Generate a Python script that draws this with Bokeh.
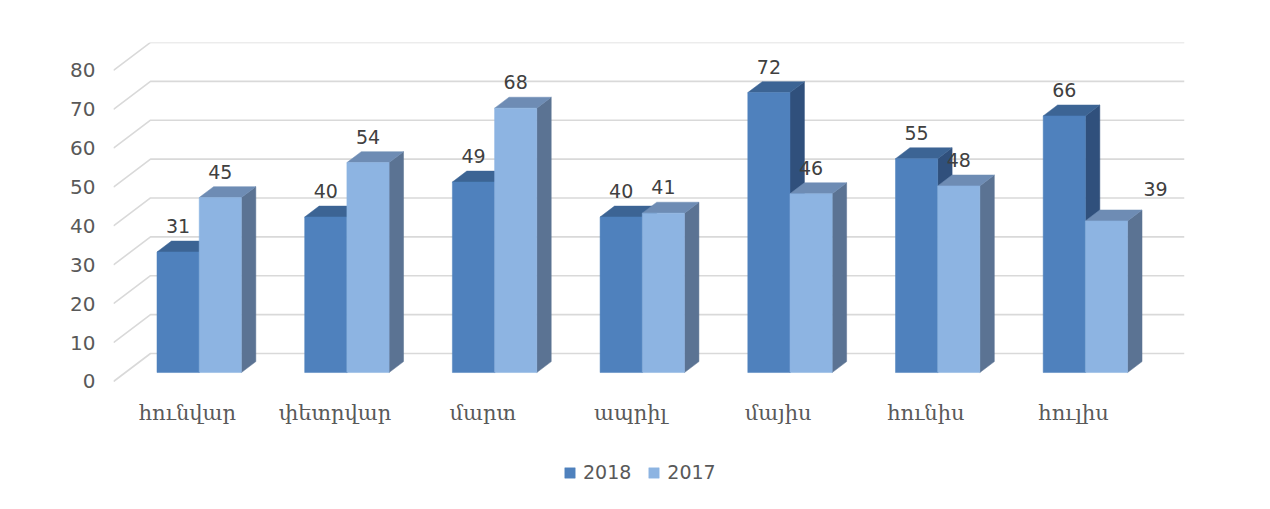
from bokeh.plotting import figure
from bokeh.models import Range1d, FixedTicker, Legend, LegendItem, ColumnDataSource
from bokeh.embed import file_html
from bokeh.resources import INLINE
from bokeh.core.properties import value

# ---------------- data ----------------
categories = ["հունվար", "փետրվար", "մարտ", "ապրիլ", "մայիս", "հունիս", "հուլիս"]
s2018 = [31, 40, 49, 40, 72, 55, 66]
s2017 = [45, 54, 68, 41, 46, 48, 39]
series_names = ["2018", "2017"]
y_ticks = [0, 10, 20, 30, 40, 50, 60, 70, 80]

# ---------------- layout / styles ----------------
W, H = 1254, 493
BL, BT = 113, 42
frame_w = 1071
frame_h = 445
BR = W - BL - frame_w
BB = H - BT - frame_h
PX_PER_CAT = 147.7
PX_PER_VAL = 3.888
x_max = frame_w / PX_PER_CAT
y_top = 87.19
y_bot = y_top - frame_h / PX_PER_VAL
DXW = 37 / PX_PER_CAT      # wall depth in x units
DYW = 28 / PX_PER_VAL      # wall depth in value units
Z0, Z1 = 0.32, 0.71        # bar depth (fraction of floor depth)
BAR_W = 1 / 3.5            # gap width 150%

front_col = {"2018": "#4f81bd", "2017": "#8db4e2"}
top_col = {"2018": "#3c6494", "2017": "#6e8cb4"}
side_col = {"2018": "#30507c", "2017": "#5b7393"}
label_nudge = {("2017", 6): (49, -6)}

p = figure(width=W, height=H, output_backend="svg", toolbar_location=None,
           x_axis_location=None, min_border_left=BL, min_border_right=BR,
           min_border_top=BT, min_border_bottom=BB,
           x_range=Range1d(0, x_max), y_range=Range1d(y_bot, y_top))
p.grid.visible = False
p.outline_line_color = None
p.background_fill_color = "white"
p.border_fill_color = "white"

# gridlines: slanted side wall + back wall
gx = [[0, DXW, x_max] for v in y_ticks]
gy = [[v, v + DYW, v + DYW] for v in y_ticks]
p.multi_line(gx, gy, line_color="#d9d9d9", line_width=1.6)

dx0, dy0 = Z0 * DXW, Z0 * DYW
dx1, dy1 = Z1 * DXW, Z1 * DYW

fronts = {}
for si, (name, vals) in enumerate(zip(series_names, [s2018, s2017])):
    lefts = [i + 0.5 - BAR_W + si * BAR_W for i in range(len(categories))]
    sxs, sys_ = [], []
    txs, tys = [], []
    for xl, v in zip(lefts, vals):
        xr = xl + BAR_W
        sxs.append([xr + dx0, xr + dx1, xr + dx1, xr + dx0])
        sys_.append([dy0, dy1, v + dy1, v + dy0])
        txs.append([xl + dx0, xr + dx0, xr + dx1, xl + dx1])
        tys.append([v + dy0, v + dy0, v + dy1, v + dy1])
    p.patches(sxs, sys_, fill_color=side_col[name], line_color=side_col[name], line_width=0.5)
    p.patches(txs, tys, fill_color=top_col[name], line_color=top_col[name], line_width=0.5)
    src = ColumnDataSource(dict(left=[x + dx0 for x in lefts],
                                right=[x + BAR_W + dx0 for x in lefts],
                                bottom=[dy0] * len(vals),
                                top=[v + dy0 for v in vals]))
    fronts[name] = p.quad(left="left", right="right", bottom="bottom", top="top",
                          source=src, fill_color=front_col[name],
                          line_color=front_col[name], line_width=0.5)

# value labels
for si, (name, vals) in enumerate(zip(series_names, [s2018, s2017])):
    for i, v in enumerate(vals):
        xo, yo = label_nudge.get((name, i), (0, 0))
        p.text(x=[i + 0.5 - BAR_W / 2 + si * BAR_W + dx0], y=[v + dy0], text=[str(v)],
               x_offset=xo, y_offset=-26 + yo,
               text_font=value("DejaVu Sans"), text_font_size="19px",
               text_color="#404040", text_align="center", text_baseline="middle")

# category labels
p.text(x=[i + 0.5 for i in range(len(categories))], y=[0] * len(categories),
       text=categories, y_offset=32,
       text_font=value("DejaVu Serif"), text_font_size="21px",
       text_color="#595959", text_align="center", text_baseline="middle")

# y axis
p.yaxis.ticker = FixedTicker(ticks=y_ticks)
p.yaxis.axis_line_color = None
p.yaxis.major_tick_line_color = None
p.yaxis.minor_tick_line_color = None
p.yaxis.major_tick_out = 0
p.yaxis.major_label_standoff = 18
p.yaxis.major_label_text_font = "DejaVu Sans"
p.yaxis.major_label_text_font_size = "20px"
p.yaxis.major_label_text_color = "#595959"

legend = Legend(items=[LegendItem(label=n, renderers=[fronts[n]]) for n in series_names],
                orientation="horizontal", location=(450, 4),
                glyph_width=13, glyph_height=13, label_standoff=7, spacing=16,
                padding=0, margin=0, border_line_color=None, background_fill_alpha=0,
                label_text_font="DejaVu Sans", label_text_font_size="19px",
                label_text_color="#595959")
p.add_layout(legend)

open("out.html", "w").write(file_html(p, INLINE))
